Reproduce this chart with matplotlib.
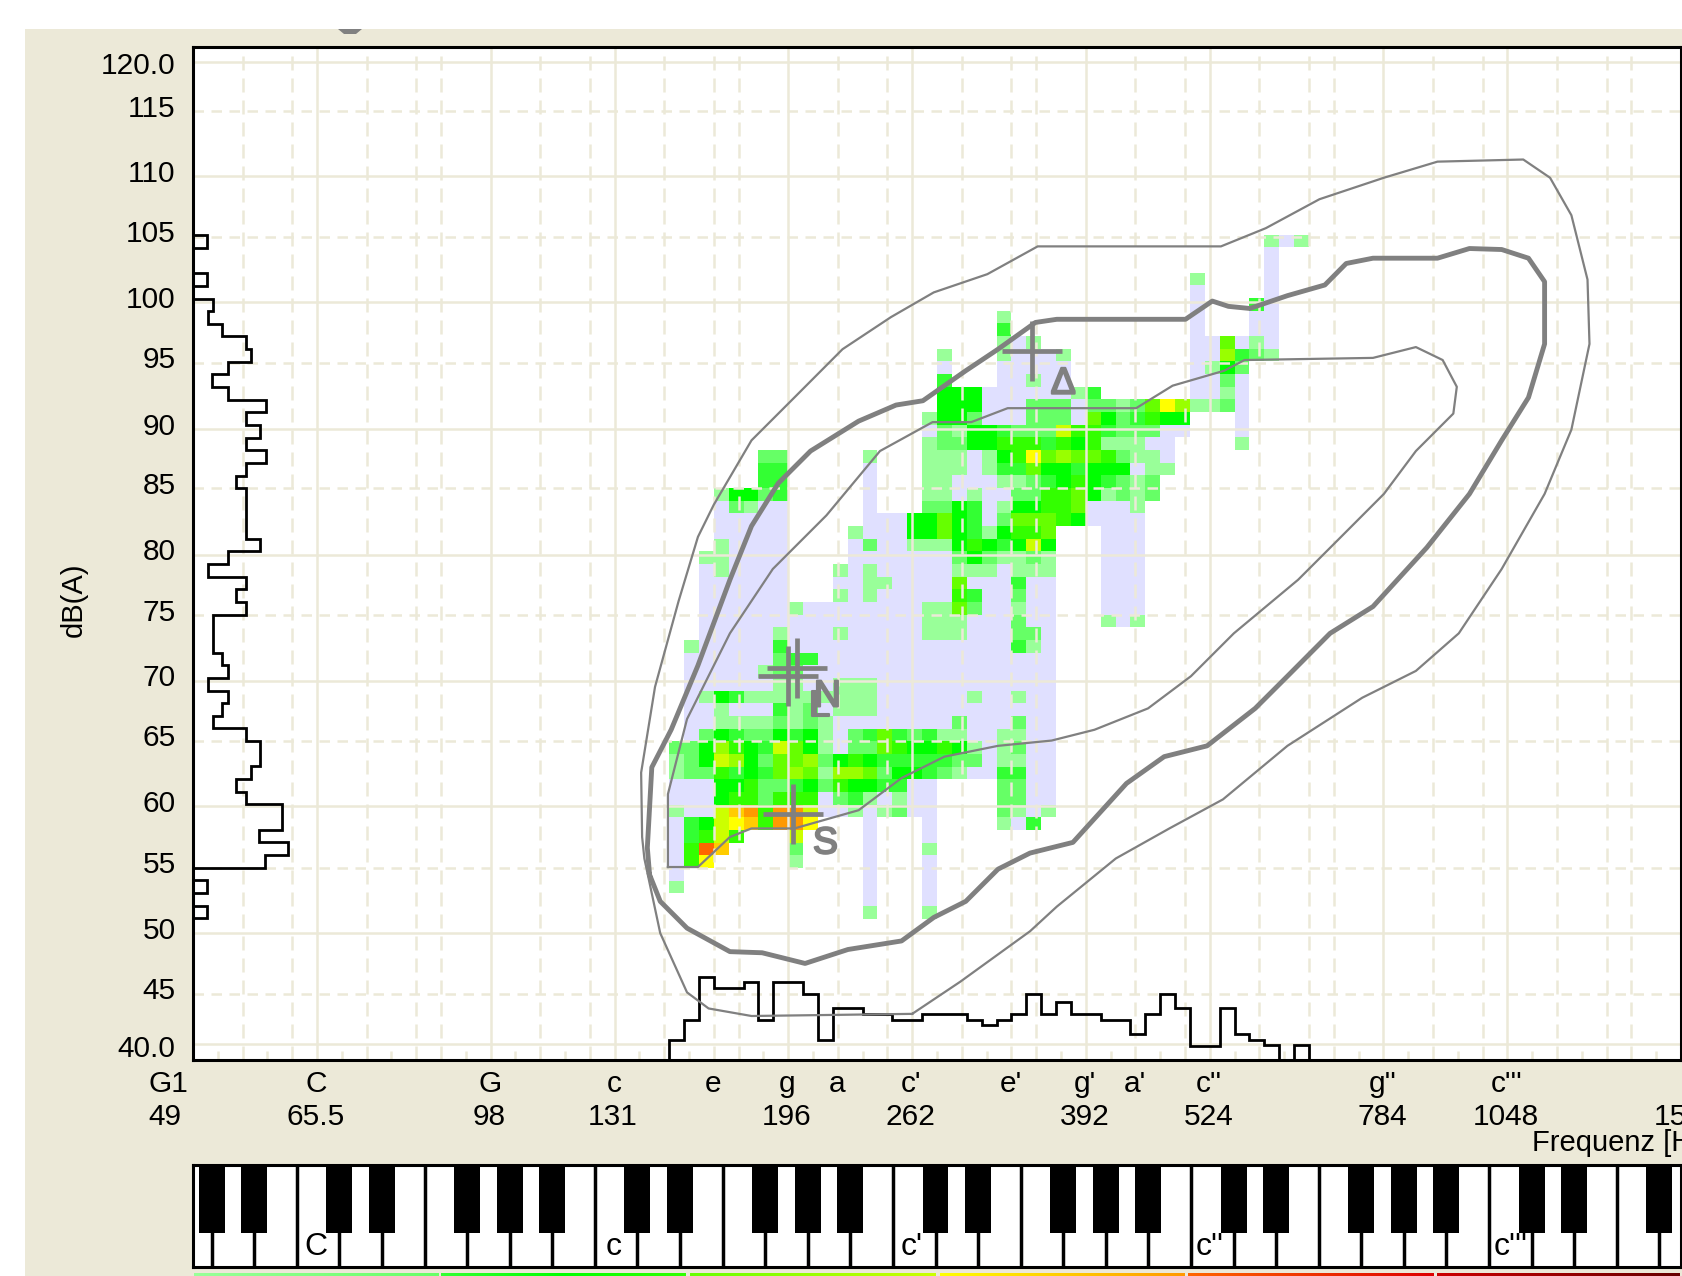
import numpy as np
import matplotlib
matplotlib.use("Agg")
import matplotlib.pyplot as plt
import matplotlib.patheffects as pe
from matplotlib.colors import ListedColormap, BoundaryNorm, LinearSegmentedColormap
from matplotlib.patches import Rectangle, Polygon

plt.rcParams['font.family'] = ['Liberation Sans', 'DejaVu Sans']

BEIGE = '#ECE9D8'
GRAY = '#808080'
W, H = 1682, 1276

# y axis labels
db_labels = ['120.0', '115', '110', '105', '100', '95', '90', '85', '80', '75', '70', '65', '60', '55', '50', '45', '40.0']
db_grid = [119.3, 115.4, 110.2, 105.4, 100.2, 95.4, 90.1, 85.4, 80.1, 75.3, 70.1, 65.3, 60.1, 55.2, 50.0, 45.2, 41.2]
db_label_pos = [119.0, 115.6, 110.4, 105.6, 100.4, 95.6, 90.3, 85.6, 80.3, 75.5, 70.3, 65.5, 60.3, 55.4, 50.2, 45.4, 40.8]

# x axis: semitones above G1 (49 Hz), the screen scale is pitch
note_names = ['C', 'G', 'c', 'e', 'g', 'a', "c'", "e'", "g'", "a'", "c''", "g''", "c'''"]
note_st = [5, 12, 17, 21, 24, 26, 29, 33, 36, 38, 41, 48, 53]
hz_labels = ['65.5', '98', '131', '196', '262', '392', '524', '784', '1048', '1568']
hz_st = [5, 12, 17, 24, 29, 36, 41, 48, 53, 60]

# phonetogram cells, one string per dB row, columns k=32..74 (20 per octave)
# . empty, 0 lavender, 1-9 a b c rising count
heat_top = 104
heat_rows = [
    "........ .......... .......... .......... ..101",
    "........ .......... .......... .......... ..0..",
    "........ .......... .......... .......... ..0..",
    "........ .......... .......... .......1.. ..0..",
    "........ .......... .......... .......0.. ..0..",
    "........ .......... .......... .......0.. .30..",
    "........ .......... ....1..... .......0.. .00..",
    "........ .......... ....3..... .......0.. .00..",
    "........ .......... ....101... .......006 010..",
    "........ .......... 1...10001. .......007 321..",
    "........ .......... 0...00000. .......014 2....",
    "........ .......... 3...00100. .......002 0....",
    "........ .......... 4440000001 3......001 0....",
    "........ .......... 4440002220 2212697112 0....",
    "........ .........1 4420002220 6423544... 0....",
    "........ .........0 2144322285 5322200... 0....",
    "........ .........1 2244555354 511100.... 1....",
    "......22 .....1...1 1101459676 652110.... .....",
    "......33 .....0...1 1101336443 444011.... .....",
    "......33 .....0...1 1000112345 43212..... .....",
    "...14423 .....0...1 1010022556 41212..... .....",
    "...02100 .....0...2 2430144556 0001...... .....",
    "...00000 .....00044 6430266654 0000...... .....",
    "...00000 ....100044 64314556.. .000...... .....",
    "...10000 ....020011 14543484.. .000...... .....",
    "..110000 ....000000 02421121.. .000...... .....",
    "..010000 ...1010000 01110111.. .000...... .....",
    "..000000 ...0011000 06000300.. .000...... .....",
    "..000000 ...1010000 05300200.. .000...... .....",
    "..000000 1000000001 16200100.. .000...... .....",
    "..000000 0000000001 11000200.. .101...... .....",
    "..000001 0001000001 11000220.. .......... .....",
    ".1000003 0000000000 00000310.. .......... .....",
    ".0000002 3300000000 00000000.. .......... .....",
    ".0000012 2000000000 00000000.. .......... .....",
    ".0000001 1001110000 00000000.. .......... .....",
    ".0143111 1111110000 00100100.. .......... .....",
    ".0010003 1201110000 00000000.. .......... .....",
    ".0011112 1210000000 02000200.. .......... .....",
    ".0243224 3410236323 11001100.. .......... .....",
    "22475438 6410226544 54101200.. .......... .....",
    "12487426 6724543333 32201100.. .......... .....",
    "12253436 7617762443 21003300.. .......... .....",
    "00044522 3425443300 ....2200.. .......... .....",
    "00045525 5502310100 ....2200.. .......... .....",
    "1008ab5b b800101200 ....2101.. .......... .....",
    "03489a5b b9...0...0 ....103... .......... .....",
    "03585... 8....0...0 .......... .......... .....",
    "05ca.... 2....0...1 .......... .......... .....",
    "059..... 1....0...0 .......... .......... .....",
    "0....... .....0...0 .......... .......... .....",
    "1....... .....0...0 .......... .......... .....",
    "........ .....0...0 .......... .......... .....",
    "........ .....1...1 .......... .......... .....",
]
heat_colors = ['#E0E0FF', '#99FF99', '#66FF66', '#33FF33', '#00FF00', '#33FF00', '#66FF00',
               '#99FF00', '#CCFF00', '#FFFF00', '#FFCC00', '#FF9900', '#FF6600']

# level histogram at the left wall, rows 104 down to 51
left_counts = [14, 0, 0, 14, 0, 20, 15, 29, 53, 58, 35, 19, 35, 73, 53, 67, 53, 73, 53, 43, 53, 53, 53, 53,
               67, 35, 15, 53, 43, 53, 20, 20, 20, 29, 35, 15, 35, 29, 20, 53, 67, 67, 58, 43, 53, 89, 89,
               66, 95, 72, 0, 14, 0, 14]
# pitch histogram at the floor, columns k=32..74
bottom_counts = [20, 40, 83, 72, 72, 78, 40, 78, 78, 66, 20, 52, 52, 46, 46, 40, 40, 46, 46, 46, 40, 35, 40,
                 46, 66, 46, 58, 46, 46, 40, 40, 26, 46, 66, 52, 14, 14, 52, 26, 20, 15, 0, 15]

# outer, middle (thick) and inner contours
outer_st = [29.00, 22.52, 20.79, 19.92, 18.84, 18.20, 18.11, 18.07, 18.63, 19.58, 20.36, 21.00, 22.52, 24.25,
            26.19, 28.14, 29.87, 32.03, 34.06, 41.45, 43.26, 45.42, 48.02, 50.18, 53.64, 54.72, 55.58, 56.23,
            56.31, 55.58, 54.50, 52.77, 51.04, 49.31, 47.15, 44.13, 41.53, 39.37, 37.21, 34.83, 33.75, 30.94, 29.00]
outer_db = [43.59, 43.42, 44.02, 45.30, 50.01, 55.95, 57.66, 62.78, 69.60, 76.42, 81.53, 84.09, 89.21, 92.62,
            96.46, 99.01, 100.98, 102.43, 104.64, 104.64, 106.09, 108.39, 110.10, 111.38, 111.55, 110.10, 107.12,
            102.00, 96.88, 90.06, 84.95, 78.98, 73.86, 70.87, 68.74, 64.91, 60.65, 58.34, 55.95, 52.12, 50.16,
            46.15, 43.59]
middle_st = [18.41, 18.32, 18.50, 19.28, 20.36, 21.65, 22.52, 23.60, 24.90, 26.84, 28.35, 29.43, 31.16, 32.46,
             33.97, 34.83, 40.02, 41.10, 41.75, 42.61, 44.13, 45.64, 46.50, 47.58, 50.18, 51.47, 52.77, 53.85,
             54.50, 54.50, 53.85, 52.77, 51.47, 49.75, 47.58, 45.85, 44.13, 42.83, 40.89, 39.16, 37.64, 35.48,
             33.75, 32.46, 31.16, 29.87, 28.57, 26.41, 24.68, 22.95, 21.65, 19.92, 18.84, 18.41]
middle_db = [54.66, 56.81, 63.20, 66.19, 71.30, 78.12, 82.39, 85.80, 88.36, 90.74, 92.02, 92.36, 94.75, 96.46,
             98.59, 98.84, 98.84, 100.29, 99.87, 99.70, 100.72, 101.57, 103.28, 103.70, 103.70, 104.47, 104.39,
             103.70, 101.83, 96.88, 92.62, 89.21, 84.95, 80.68, 75.99, 73.86, 70.45, 67.89, 64.91, 64.05, 61.92,
             57.23, 56.38, 55.10, 52.54, 51.26, 49.39, 48.71, 47.60, 48.45, 48.54, 50.41, 52.54, 54.66]
inner_st = [19.15, 19.15, 19.92, 21.65, 23.38, 25.54, 27.70, 29.82, 31.38, 32.85, 38.03, 39.50, 41.58, 42.40,
            47.58, 49.31, 50.39, 50.96, 50.82, 49.31, 48.02, 46.29, 44.56, 41.97, 40.24, 38.51, 36.35, 34.62,
            32.46, 30.30, 28.57, 26.84, 24.25, 22.52, 21.65, 20.36, 19.15]
inner_db = [55.27, 61.07, 67.04, 73.86, 78.98, 83.24, 88.36, 90.66, 90.66, 91.77, 91.77, 93.56, 94.75, 95.60,
            95.77, 96.63, 95.60, 93.47, 91.34, 88.36, 84.95, 81.53, 78.12, 73.86, 70.45, 67.89, 66.19, 65.33,
            64.91, 64.05, 62.35, 59.79, 58.34, 58.34, 57.66, 55.27, 55.27]

# vowel/voice markers
mark_st = [24.34, 24.01, 24.21, 33.84]
mark_db = [71.07, 70.43, 59.46, 96.30]
mark_names = ['N', 'L', 'S', '\u0394']
mark_text_st = [25.58, 25.26, 25.50, 35.09]
mark_text_db = [68.84, 68.04, 57.15, 93.72]

# strip under the keyboard
strip_stops = [('#99FF99', '#66FF66'), ('#33FF33', '#00FF00', '#33FF00'), ('#66FF00', '#CCFF00'),
               ('#FFFF00', '#FF9900'), ('#FF6600', '#DD0000'), ('#CC0000', '#660000')]
strip_left = [194, 441, 690, 940, 1188, 1437]
strip_right = [438, 686, 936, 1185, 1434, 1680]

key_names = ['C', 'c', "c'", "c''", "c'''"]
key_pos = [0.45, 7.45, 14.45, 21.45, 28.5]


def fig_rect(x0, y0, x1, y1):
    return [x0 / W, (H - y1) / H, (x1 - x0) / W, (y1 - y0) / H]


fig = plt.figure(figsize=(W / 100, H / 100), dpi=100, facecolor='white')
fig.add_artist(Rectangle((25 / W, 0), 1, (H - 29) / H, transform=fig.transFigure, color=BEIGE, lw=0, zorder=-1))
blob = [(338, 29), (362, 29), (356, 34), (344, 34)]
fig.add_artist(Polygon([(x / W, (H - y) / H) for x, y in blob], transform=fig.transFigure, color=GRAY, lw=0, zorder=-0.5))

ax = fig.add_axes(fig_rect(193, 47, 1681, 1060))
ax.set_xlim(0, 60)
y_low, y_high = 39.92, 120.5
ax.set_ylim(y_low, y_high)
ax.set_xticks([])
ax.set_yticks([])
for s in ax.spines.values():
    s.set_linewidth(2.2)
    s.set_color('black')

# cells
rows = [r.replace(' ', '') for r in heat_rows]
codes = '0123456789abc'
cells = np.full((len(rows), len(rows[0])), np.nan)
for i, r in enumerate(rows):
    for j, c in enumerate(r):
        if c != '.':
            cells[i, j] = codes.index(c)
cells = cells[::-1]
x_edges = 0.6 * np.arange(32, 32 + cells.shape[1] + 1)
# rows sit a little wider than 1 dB on screen
y_edges = heat_top + 1 - len(rows) + np.arange(len(rows) + 1) * 1.008 + 0.15
cmap = ListedColormap(heat_colors)
norm = BoundaryNorm(np.arange(-0.5, 13.5), cmap.N)
ax.pcolormesh(x_edges, y_edges, np.ma.masked_invalid(cells), cmap=cmap, norm=norm, zorder=1, antialiased=False)

# grid
for i, y in enumerate(db_grid):
    ls = '-' if i % 2 == 0 else (0, (4.2, 3.0))
    ax.axhline(y, color=BEIGE, lw=1.8, ls=ls, zorder=2)
for st in range(0, 61):
    step = (st - 5) % 12
    if step in (0, 7):
        ax.axvline(st, color=BEIGE, lw=1.8, zorder=2)
    elif step in (2, 4, 5, 9, 11):
        ax.axvline(st, color=BEIGE, lw=1.8, ls=(0, (5.6, 3.2)), zorder=2)
    else:
        ax.vlines(st, y_low, y_low + 0.75, color=BEIGE, lw=1.8, zorder=2)

# histograms, one count is one pixel
left_edges = 51.2 + np.arange(54 + 1) * 1.006
ax.stairs(np.array(left_counts[::-1]) / 24.82, left_edges, orientation='horizontal', baseline=0,
          color='black', lw=2.0, zorder=3)
ax.stairs(np.array(bottom_counts) / 12.58 + y_low, x_edges, baseline=y_low, color='black', lw=2.0, zorder=3)

# contours
ax.plot(outer_st, outer_db, color=GRAY, lw=1.6, zorder=4)
ax.plot(inner_st, inner_db, color=GRAY, lw=1.6, zorder=4)
ax.plot(middle_st, middle_db, color=GRAY, lw=3.5, zorder=4)

# markers
ax.plot(mark_st, mark_db, ls='', marker='+', ms=43, mew=3.4, color=GRAY, zorder=5)
for name, x, y in zip(mark_names, mark_text_st, mark_text_db):
    ax.text(x, y, name, color=GRAY, fontsize=27, ha='center', va='center', zorder=5,
            path_effects=[pe.withStroke(linewidth=1.5, foreground=GRAY)])

# labels
for lab, y in zip(db_labels, db_label_pos):
    ax.text(-0.7, y, lab, ha='right', va='center', fontsize=21.5, color='black')
trans = ax.get_xaxis_transform()
ax.text(-1.0, -0.0237, 'G1', transform=trans, ha='center', va='center', fontsize=21.5, clip_on=False)
ax.text(-1.15, -0.0563, '49', transform=trans, ha='center', va='center', fontsize=21.5, clip_on=False)
for lab, st in zip(note_names, note_st):
    ax.text(st - 0.03, -0.0237, lab, transform=trans, ha='center', va='center', fontsize=21.5, clip_on=False)
for lab, st in zip(hz_labels, hz_st):
    ax.text(st - 0.06 + (0.28 if lab == '1568' else 0), -0.0563, lab, transform=trans, ha='center', va='center', fontsize=21.5, clip_on=False)
ax.text(53.99, -0.082, 'Frequenz [Hz]', transform=trans, ha='left', va='center', fontsize=21, clip_on=False)
fig.text(74 / W, (H - 600) / H, 'dB(A)', rotation=90, ha='center', va='center', fontsize=21)

# keyboard
pa = fig.add_axes(fig_rect(193, 1165, 1681, 1267))
pa.set_xlim(-2.44, 32.51)
pa.set_ylim(0, 1)
pa.set_xticks([])
pa.set_yticks([])
for s in pa.spines.values():
    s.set_linewidth(2.2)
for n in range(-3, 34):
    pa.axvline(n, color='black', lw=2.5)
    if n % 7 in (1, 2, 4, 5, 6):
        pa.bar(n, 0.667, width=0.61, bottom=0.333, color='black', lw=0)
for lab, x in zip(key_names, key_pos):
    pa.text(x, 0.2, lab, ha='center', va='center', fontsize=23, family=['Liberation Sans Narrow', 'Liberation Sans'])

# colour strip
for stops, x0, x1 in zip(strip_stops, strip_left, strip_right):
    sa = fig.add_axes(fig_rect(x0, 1273, x1, 1276))
    sa.imshow(np.linspace(0, 1, 256).reshape(1, -1), aspect='auto',
              cmap=LinearSegmentedColormap.from_list('seg', stops))
    sa.axis('off')

fig.savefig('out.png', dpi=100)
